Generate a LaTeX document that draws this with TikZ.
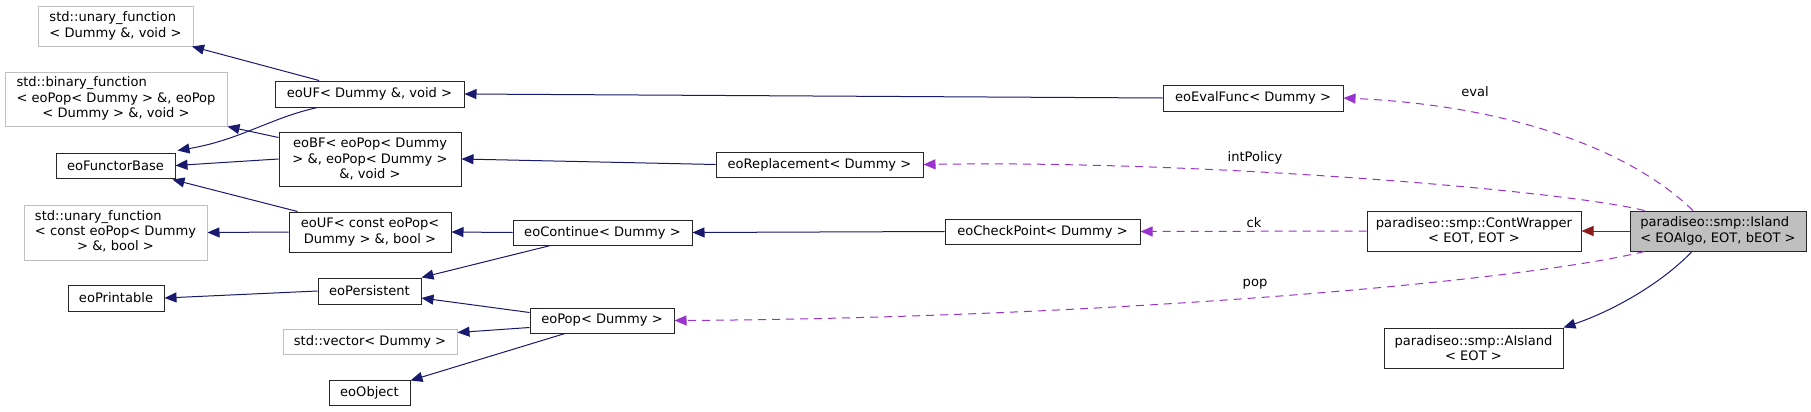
\documentclass[tikz,border=0pt]{standalone}
\usepackage{fontspec}
\setmainfont{DejaVu Sans}
\usetikzlibrary{arrows.meta,calc}
\definecolor{inhblue}{HTML}{191970}
\definecolor{privred}{HTML}{8B1A1A}
\definecolor{usepurple}{HTML}{9A32CD}
\definecolor{extgray}{HTML}{BFBFBF}
\tikzset{
  cls/.style={draw=black!85, line width=0.75pt, fill=white, inner sep=0pt, align=center, font=\fontsize{9.8}{11.5}\selectfont},
  extcls/.style={cls, draw=extgray},
  curcls/.style={cls, fill=extgray},
  sz/.style 2 args={minimum width=#1*0.75pt, minimum height=#2*0.75pt},
  inh/.style={draw=inhblue, line width=0.75pt, -{Triangle[length=9pt,width=7.5pt]}},
  priv/.style={inh, draw=privred},
  usage/.style={draw=usepurple, line width=0.75pt, dash pattern=on 6pt off 4.5pt, -{Triangle[length=9pt,width=7.5pt]}},
  lbl/.style={font=\fontsize{9.8}{11.5}\selectfont, inner sep=1pt}
}

\begin{document}
\begin{tikzpicture}[x=0.75pt, y=-0.75pt]
  \path[use as bounding box, fill=white] (0,0) rectangle (1811,411);

  % left column
  \node[extcls, sz={155}{40}, align=left] (unaryDummy) at (115.5,26) {std::unary\_function\\< Dummy \&, void >};
  \node[extcls, sz={222}{54}] (binary) at (116,99) {\begin{tabular}{@{}l@{}}std::binary\_function\\< eoPop< Dummy > \&, eoPop\\\multicolumn{1}{@{}c@{}}{< Dummy > \&, void >}\end{tabular}};
  \node[cls, sz={119}{25}] (fbase) at (115.5,165.5) {eoFunctorBase};
  \node[extcls, sz={183}{55}] (unaryPop) at (115.5,232.5) {\begin{tabular}{@{}l@{}}std::unary\_function\\< const eoPop< Dummy\\\multicolumn{1}{@{}c@{}}{> \&, bool >}\end{tabular}};
  \node[cls, sz={96}{26}] (printable) at (116,298) {eoPrintable};

  % second column
  \node[cls, sz={189}{26}] (ufDummy) at (369.5,94) {eoUF< Dummy \&, void >};
  \node[cls, sz={182}{54}] (bf) at (370,159) {eoBF< eoPop< Dummy\\> \&, eoPop< Dummy >\\\&, void >};
  \node[cls, sz={162}{40}] (ufPop) at (370,232) {eoUF< const eoPop<\\Dummy > \&, bool >};
  \node[cls, sz={103}{26}] (persistent) at (369.5,291) {eoPersistent};
  \node[extcls, sz={174}{25}] (vector) at (370,341.5) {std::vector< Dummy >};
  \node[cls, sz={81}{25}] (object) at (369.5,392.5) {eoObject};

  % middle
  \node[cls, sz={207}{25}] (replacement) at (819.5,164.5) {eoReplacement< Dummy >};
  \node[cls, sz={179}{25}] (continue) at (602.5,232.5) {eoContinue< Dummy >};
  \node[cls, sz={144}{25}] (pop) at (602,320.5) {eoPop< Dummy >};
  \node[cls, sz={180}{26}] (evalfunc) at (1253,98) {eoEvalFunc< Dummy >};
  \node[cls, sz={195}{25}] (checkpoint) at (1042.5,231.5) {eoCheckPoint< Dummy >};

  % right
  \node[cls, sz={214}{40}] (contwrapper) at (1474,231) {paradiseo::smp::ContWrapper\\< EOT, EOT >};
  \node[curcls, sz={176}{40}, align=left] (island) at (1718,231) {paradiseo::smp::Island\\< EOAlgo, EOT, bEOT >};
  \node[cls, sz={179}{40}] (aisland) at (1473.5,348) {paradiseo::smp::AIsland\\< EOT >};

  % inheritance
  \draw[inh] (ufDummy) -- (unaryDummy);
  \draw[inh] ($(ufDummy.south)+(-52,0)$) .. controls (270,118) and (240,140) .. ($(fbase.north east)+(2,-2)$);
  \draw[inh] ($(bf.north west)+(0,6)$) -- (binary.south east);
  \draw[inh] (bf.west) -- (fbase.east);
  \draw[inh] ($(ufPop.north west)+(9,0)$) -- ($(fbase.south east)+(-3,1)$);
  \draw[inh] (ufPop.west) -- (unaryPop.east);
  \draw[inh] (evalfunc.west) -- (ufDummy.east);
  \draw[inh] (replacement.west) -- (bf.east);
  \draw[inh] (continue.west) -- (ufPop.east);
  \draw[inh] ($(continue.south)+(-52,0)$) -- (persistent.north east);
  \draw[inh] (checkpoint.west) -- (continue.east);
  \draw[inh] (persistent.west) -- (printable.east);
  \draw[inh] ($(pop.west)+(0,-8)$) -- ($(persistent.east)+(0,7)$);
  \draw[inh] ($(pop.west)+(0,7)$) -- ($(vector.east)+(0,-9)$);
  \draw[inh] ($(pop.south)+(-37,0)$) -- ($(object.north east)+(0,1)$);
  \draw[priv] (island.west) -- (contwrapper.east);
  \draw[inh] ($(island.south)+(-26,0)$) .. controls (1660,285) and (1610,312) .. (aisland.north east);

  % usage
  \draw[usage] ($(island.north)+(-25,0)$) .. controls (1625,145) and (1500,105) .. (evalfunc.east);
  \draw[usage] ($(island.north west)+(15,0)$) .. controls (1560,190) and (1200,160) .. (replacement.east);
  \draw[usage] (contwrapper.west) -- (checkpoint.east);
  \draw[usage] ($(island.south west)+(15,0)$) .. controls (1520,282) and (1100,318) .. (pop.east);
  \node[lbl] (evalLbl) at (1475,92) {eval};
  \node[lbl] (policyLbl) at (1255,158) {intPolicy};
  \node[lbl] (ckLbl) at (1254,223) {ck};
  \node[lbl] (popLbl) at (1255,284) {pop};
\end{tikzpicture}
\end{document}
